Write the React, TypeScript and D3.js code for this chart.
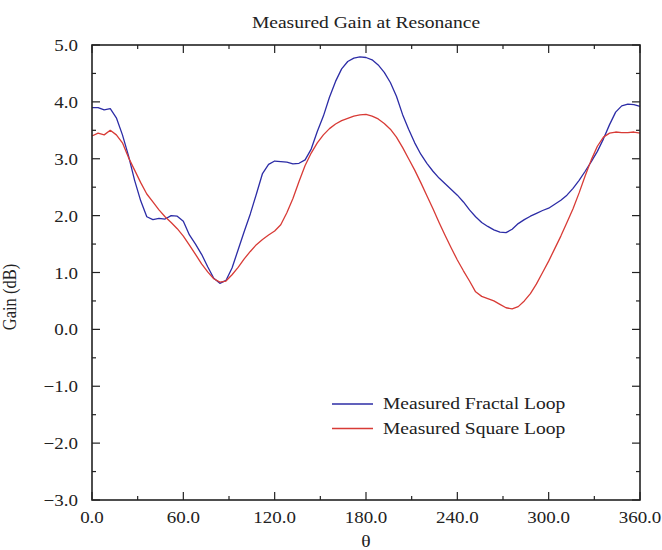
import React from "react";
import * as d3 from "d3";

// Rotation angle θ in degrees
const ANGLES = [
  0, 4, 8, 12, 16, 20, 24, 28, 32, 36, 40, 44, 48, 52, 56, 60, 64, 68, 72, 76,
  80, 84, 88, 92, 96, 100, 104, 108, 112, 116, 120, 124, 128, 132, 136, 140,
  144, 148, 152, 156, 160, 164, 168, 172, 176, 180, 184, 188, 192, 196, 200,
  204, 208, 212, 216, 220, 224, 228, 232, 236, 240, 244, 248, 252, 256, 260,
  264, 268, 272, 276, 280, 284, 288, 292, 296, 300, 304, 308, 312, 316, 320,
  324, 328, 332, 336, 340, 344, 348, 352, 356, 360,
];

// Measured gain (dB), fractal loop
const FRACTAL_GAIN = [
  3.9, 3.9, 3.86, 3.88, 3.72, 3.42, 3.05, 2.62, 2.26, 1.98, 1.93, 1.95, 1.94,
  2.0, 1.99, 1.9, 1.66, 1.5, 1.32, 1.1, 0.9, 0.81, 0.86, 1.08, 1.4, 1.72, 2.03,
  2.38, 2.74, 2.9, 2.96, 2.95, 2.94, 2.91, 2.92, 2.98, 3.17, 3.48, 3.75, 4.08,
  4.36, 4.58, 4.71, 4.77, 4.79, 4.78, 4.74, 4.65, 4.52, 4.34, 4.1, 3.78, 3.52,
  3.28, 3.08, 2.92, 2.78, 2.66, 2.56, 2.46, 2.36, 2.24, 2.1, 1.98, 1.88, 1.81,
  1.75, 1.71, 1.7, 1.76, 1.86, 1.93, 1.99, 2.04, 2.09, 2.13, 2.2, 2.27, 2.36,
  2.48, 2.62, 2.78, 2.95, 3.13, 3.35, 3.6, 3.82, 3.93, 3.96, 3.95, 3.92,
];

// Measured gain (dB), square loop
const SQUARE_GAIN = [
  3.4, 3.45, 3.42, 3.5, 3.42, 3.28, 3.02, 2.8, 2.58, 2.38, 2.24, 2.1, 1.98,
  1.88, 1.77, 1.64, 1.48, 1.32, 1.15, 1.01, 0.89, 0.83, 0.85, 0.96, 1.09, 1.24,
  1.37, 1.49, 1.58, 1.66, 1.73, 1.84, 2.05, 2.3, 2.6, 2.88, 3.1, 3.28, 3.42,
  3.53, 3.61, 3.67, 3.71, 3.75, 3.77, 3.78, 3.75, 3.7, 3.62, 3.52, 3.38, 3.2,
  3.0, 2.8, 2.58, 2.35, 2.12, 1.88, 1.65, 1.43, 1.22, 1.03, 0.85, 0.66, 0.58,
  0.54, 0.5, 0.44, 0.38, 0.36, 0.4, 0.5, 0.63, 0.8, 1.0, 1.2, 1.42, 1.64, 1.88,
  2.12, 2.4, 2.7, 2.98, 3.22, 3.38, 3.45, 3.47, 3.46, 3.46, 3.47, 3.45,
];

const X_MAJOR = [0, 60, 120, 180, 240, 300, 360];
const X_MINOR = [30, 90, 150, 210, 270, 330];
const Y_MAJOR = [-3, -2, -1, 0, 1, 2, 3, 4, 5];
const Y_MINOR = [-2.5, -1.5, -0.5, 0.5, 1.5, 2.5, 3.5, 4.5];

const SERIES = [
  { name: "Measured Fractal Loop", values: FRACTAL_GAIN, color: "#2c2ca6" },
  { name: "Measured Square Loop", values: SQUARE_GAIN, color: "#d83b36" },
];

const W = 662;
const H = 550;
const LEFT = 92;
const RIGHT = 640;
const TOP = 45;
const BOTTOM = 500;
const FONT = "'Liberation Serif', 'Times New Roman', serif";
const STRETCH = 1.15;
const INK = "#222";

export default function App() {
  const x = d3.scaleLinear().domain([0, 360]).range([LEFT, RIGHT]);
  const y = d3.scaleLinear().domain([-3, 5]).range([BOTTOM, TOP]);
  const fmt = d3.format(".1f");

  const line = d3
    .line<number>()
    .x((_, i) => x(ANGLES[i]))
    .y((d) => y(d));

  const majorLen = 8;
  const minorLen = 4;

  const label = (
    tx: number,
    ty: number,
    text: string,
    size: number,
    anchor: "start" | "middle" | "end",
    key?: string
  ) => (
    <text
      key={key}
      transform={`translate(${tx},${ty}) scale(${STRETCH},1)`}
      textAnchor={anchor}
      fontFamily={FONT}
      fontSize={size}
      fill={INK}
    >
      {text}
    </text>
  );

  return (
    <svg
      width={W}
      height={H}
      style={{ position: "absolute", left: 0, top: 0, background: "#fff" }}
    >
      <rect x={0} y={0} width={W} height={H} fill="#fff" />

      {label((LEFT + RIGHT) / 2, 28, "Measured Gain at Resonance", 17, "middle")}

      {/* data curves */}
      <g fill="none" strokeWidth={1.3} strokeLinejoin="round">
        {SERIES.map((s) => (
          <path key={s.name} d={line(s.values) || ""} stroke={s.color} />
        ))}
      </g>

      {/* ticks on all four sides, pointing inward */}
      <g stroke={INK} strokeWidth={1.2}>
        {X_MAJOR.map((v) => (
          <g key={`xM${v}`}>
            <line x1={x(v)} x2={x(v)} y1={BOTTOM} y2={BOTTOM - majorLen} />
            <line x1={x(v)} x2={x(v)} y1={TOP} y2={TOP + majorLen} />
          </g>
        ))}
        {X_MINOR.map((v) => (
          <g key={`xm${v}`}>
            <line x1={x(v)} x2={x(v)} y1={BOTTOM} y2={BOTTOM - minorLen} />
            <line x1={x(v)} x2={x(v)} y1={TOP} y2={TOP + minorLen} />
          </g>
        ))}
        {Y_MAJOR.map((v) => (
          <g key={`yM${v}`}>
            <line x1={LEFT} x2={LEFT + majorLen} y1={y(v)} y2={y(v)} />
            <line x1={RIGHT} x2={RIGHT - majorLen} y1={y(v)} y2={y(v)} />
          </g>
        ))}
        {Y_MINOR.map((v) => (
          <g key={`ym${v}`}>
            <line x1={LEFT} x2={LEFT + minorLen} y1={y(v)} y2={y(v)} />
            <line x1={RIGHT} x2={RIGHT - minorLen} y1={y(v)} y2={y(v)} />
          </g>
        ))}
      </g>

      <rect
        x={LEFT}
        y={TOP}
        width={RIGHT - LEFT}
        height={BOTTOM - TOP}
        fill="none"
        stroke={INK}
        strokeWidth={1.6}
      />

      {X_MAJOR.map((v) => label(x(v), BOTTOM + 23, fmt(v), 16.5, "middle", `xl${v}`))}
      {Y_MAJOR.map((v) => label(LEFT - 14, y(v) + 6, fmt(v), 16.5, "end", `yl${v}`))}

      {label((LEFT + RIGHT) / 2, 547, "θ", 17, "middle")}

      <text
        transform={`translate(16,297) scale(${STRETCH},1) rotate(-90)`}
        textAnchor="middle"
        fontFamily={FONT}
        fontSize={16.5}
        fill={INK}
      >
        Gain (dB)
      </text>

      {/* legend */}
      {SERIES.map((s, i) => {
        const ly = 404 + i * 24.5;
        return (
          <g key={`lg${s.name}`}>
            <line x1={332} x2={373} y1={ly} y2={ly} stroke={s.color} strokeWidth={1.3} />
            {label(383, ly + 5, s.name, 17, "start")}
          </g>
        );
      })}
    </svg>
  );
}
